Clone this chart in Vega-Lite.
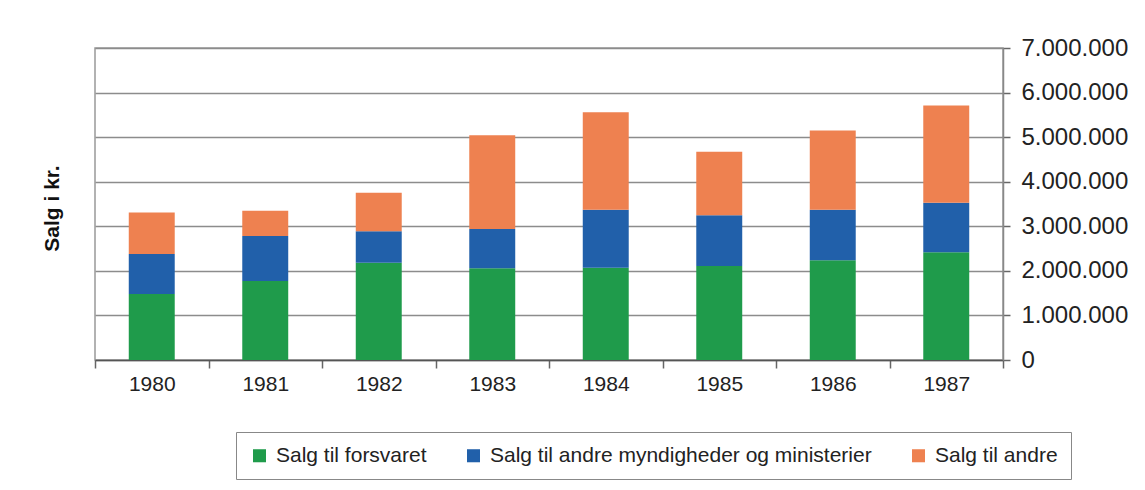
{
  "$schema": "https://vega.github.io/schema/vega-lite/v6.json",
  "width": 908,
  "height": 312,
  "autosize": {"type": "none"},
  "padding": {"left": 95, "top": 48, "right": 142, "bottom": 130},
  "background": "white",
  "config": {
    "locale": {"number": {"decimal": ",", "thousands": ".", "grouping": [3], "currency": ["", " kr"]}},
    "font": "Liberation Sans",
    "view": {"stroke": "#999999", "strokeWidth": 1.5}
  },
  "data": {
    "values": [
      {"aar": "1980", "serie": "Salg til forsvaret", "k": 1, "salg": 1480000},
      {"aar": "1980", "serie": "Salg til andre myndigheder og ministerier", "k": 2, "salg": 900000},
      {"aar": "1980", "serie": "Salg til andre", "k": 3, "salg": 930000},
      {"aar": "1981", "serie": "Salg til forsvaret", "k": 1, "salg": 1770000},
      {"aar": "1981", "serie": "Salg til andre myndigheder og ministerier", "k": 2, "salg": 1010000},
      {"aar": "1981", "serie": "Salg til andre", "k": 3, "salg": 570000},
      {"aar": "1982", "serie": "Salg til forsvaret", "k": 1, "salg": 2180000},
      {"aar": "1982", "serie": "Salg til andre myndigheder og ministerier", "k": 2, "salg": 710000},
      {"aar": "1982", "serie": "Salg til andre", "k": 3, "salg": 860000},
      {"aar": "1983", "serie": "Salg til forsvaret", "k": 1, "salg": 2060000},
      {"aar": "1983", "serie": "Salg til andre myndigheder og ministerier", "k": 2, "salg": 880000},
      {"aar": "1983", "serie": "Salg til andre", "k": 3, "salg": 2100000},
      {"aar": "1984", "serie": "Salg til forsvaret", "k": 1, "salg": 2070000},
      {"aar": "1984", "serie": "Salg til andre myndigheder og ministerier", "k": 2, "salg": 1300000},
      {"aar": "1984", "serie": "Salg til andre", "k": 3, "salg": 2190000},
      {"aar": "1985", "serie": "Salg til forsvaret", "k": 1, "salg": 2110000},
      {"aar": "1985", "serie": "Salg til andre myndigheder og ministerier", "k": 2, "salg": 1140000},
      {"aar": "1985", "serie": "Salg til andre", "k": 3, "salg": 1420000},
      {"aar": "1986", "serie": "Salg til forsvaret", "k": 1, "salg": 2240000},
      {"aar": "1986", "serie": "Salg til andre myndigheder og ministerier", "k": 2, "salg": 1130000},
      {"aar": "1986", "serie": "Salg til andre", "k": 3, "salg": 1780000},
      {"aar": "1987", "serie": "Salg til forsvaret", "k": 1, "salg": 2420000},
      {"aar": "1987", "serie": "Salg til andre myndigheder og ministerier", "k": 2, "salg": 1110000},
      {"aar": "1987", "serie": "Salg til andre", "k": 3, "salg": 2180000}
    ]
  },
  "mark": {"type": "bar", "width": {"band": 0.405}},
  "encoding": {
    "x": {
      "field": "aar",
      "type": "ordinal",
      "scale": {"paddingInner": 0, "paddingOuter": 0},
      "axis": {
        "title": null,
        "labelAngle": 0,
        "labelFontSize": 21,
        "labelColor": "#222222",
        "labelPadding": 5,
        "tickBand": "extent",
        "tickSize": 8,
        "tickColor": "#666666",
        "tickWidth": 1.5,
        "domainColor": "#555555",
        "domainWidth": 1.5,
        "grid": false
      }
    },
    "y": {
      "field": "salg",
      "type": "quantitative",
      "stack": "zero",
      "scale": {"domain": [0, 7000000], "nice": false},
      "axis": {
        "orient": "right",
        "values": [0, 1000000, 2000000, 3000000, 4000000, 5000000, 6000000, 7000000],
        "format": ",d",
        "labelFontSize": 24,
        "labelColor": "#222222",
        "labelPadding": 11,
        "tickSize": 7,
        "tickColor": "#666666",
        "tickWidth": 1.5,
        "domainColor": "#888888",
        "domainWidth": 1.5,
        "grid": true,
        "gridColor": "#8c8c8c",
        "gridWidth": 1.5,
        "title": "Salg i kr.",
        "titleFontSize": 21,
        "titleFontWeight": "bold",
        "titleColor": "#111111",
        "titleAngle": -90,
        "titleX": -951,
        "titleY": 160,
        "titleAlign": "center",
        "titleBaseline": "middle"
      }
    },
    "color": {
      "field": "serie",
      "type": "nominal",
      "scale": {
        "domain": ["Salg til forsvaret", "Salg til andre myndigheder og ministerier", "Salg til andre"],
        "range": ["#1f9b4b", "#2160aa", "#ee8150"]
      },
      "legend": {
        "title": null,
        "orient": "none",
        "direction": "horizontal",
        "legendX": 141,
        "legendY": 384,
        "symbolType": "square",
        "symbolSize": 170,
        "symbolStrokeWidth": 0,
        "labelFontSize": 21,
        "labelColor": "#222222",
        "labelLimit": 600,
        "labelOffset": 6,
        "columnPadding": 36,
        "strokeColor": "#888888",
        "padding": 13,
        "fillColor": "white"
      }
    },
    "order": {"field": "k", "type": "quantitative"}
  }
}
